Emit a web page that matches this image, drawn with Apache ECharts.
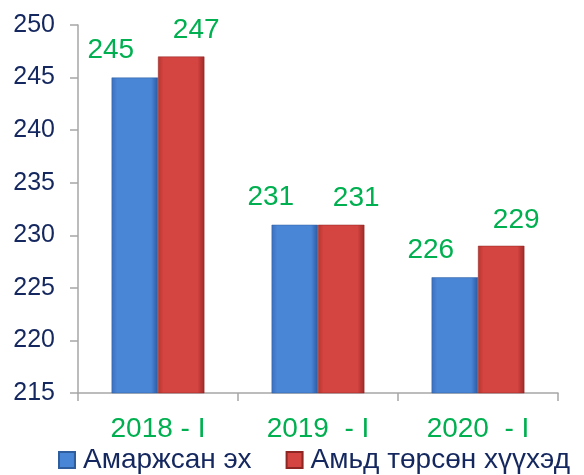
<!DOCTYPE html>
<html>
<head>
<meta charset="utf-8">
<script src="https://cdn.jsdelivr.net/npm/echarts@6/dist/echarts.min.js"></script>
<style>
  html, body { margin: 0; padding: 0; background: #fff; }
  #chart { width: 584px; height: 475px; }
</style>
</head>
<body>
<div id="chart"></div>
<script>
// 數據
const categories = ['2018 - I', '2019  - I', '2020  - I']
const mothers = [245, 231, 226]
const births = [247, 231, 229]
const seriesNames = ['Амаржсан эх', 'Амьд төрсөн хүүхэд']

const FONT = '"Liberation Sans", Arial, sans-serif'
const NAVY = '#14275e'
const GREEN = '#00b050'

// 橫向漸變（模擬立體柱）
function barGradient(edge, mid, dark) {
  return new echarts.graphic.LinearGradient(0, 0, 1, 0, [
    { offset: 0, color: edge },
    { offset: 0.12, color: mid },
    { offset: 0.85, color: mid },
    { offset: 1, color: dark }
  ])
}
const blueFill = barGradient('#3a6fbf', '#4a86d6', '#2b5aa0')
const redFill = barGradient('#b83530', '#d44440', '#9e2a28')

const chart = echarts.init(document.getElementById('chart'))

chart.setOption({
  animation: false,
  grid: { left: 78, right: 26, top: 25, bottom: 82 },
  legend: {
    left: 53,
    top: 441,
    itemWidth: 16,
    itemHeight: 16,
    itemGap: 34,
    icon: 'rect',
    textStyle: { fontFamily: FONT, fontSize: 28, color: NAVY, padding: [0, 0, 0, 3] },
    data: seriesNames
  },
  xAxis: {
    type: 'category',
    data: categories,
    axisLine: { lineStyle: { color: '#a6a6a6', width: 1.5 } },
    axisTick: { show: true, length: 8, lineStyle: { color: '#a6a6a6', width: 1.5 } },
    axisLabel: { fontFamily: FONT, fontSize: 28, color: GREEN, margin: 22 }
  },
  yAxis: {
    type: 'value',
    min: 215,
    max: 250,
    interval: 5,
    splitLine: { show: false },
    axisLine: { show: true, lineStyle: { color: '#a6a6a6', width: 1.5 } },
    axisTick: { show: true, length: 8, lineStyle: { color: '#a6a6a6', width: 1.5 } },
    axisLabel: { fontFamily: FONT, fontSize: 25, color: NAVY, margin: 23 }
  },
  series: [
    {
      name: seriesNames[0],
      type: 'bar',
      data: mothers,
      barGap: '0%',
      barCategoryGap: '42%',
      itemStyle: { color: blueFill, borderColor: '#2f5e9e', borderWidth: 0.5 },
      label: {
        show: true,
        position: 'top',
        distance: 13,
        offset: [-24, 0],
        fontFamily: FONT,
        fontSize: 28,
        color: GREEN
      }
    },
    {
      name: seriesNames[1],
      type: 'bar',
      data: births,
      itemStyle: { color: redFill, borderColor: '#8e2624', borderWidth: 0.5 },
      label: {
        show: true,
        position: 'top',
        distance: 12,
        offset: [15, 0],
        fontFamily: FONT,
        fontSize: 28,
        color: GREEN
      }
    }
  ]
})
</script>
</body>
</html>
